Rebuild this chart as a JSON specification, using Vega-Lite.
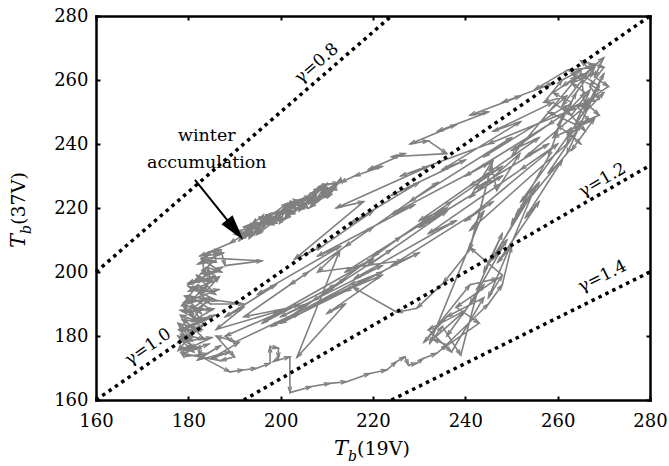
{
"$schema": "https://vega.github.io/schema/vega-lite/v6.json",
"width": 554, "height": 384,
"autosize": {"type": "none"},
"padding": {"left": 96, "top": 16, "right": 19, "bottom": 66},
"background": "white",
"config": {
 "view": {"stroke": null},
 "axis": {"domainColor": "black", "domainWidth": 2.5, "domainCap": "square", "tickColor": "black", "tickWidth": 2, "tickSize": -4, "labelFont": "DejaVu Serif", "labelFontSize": 18, "labelColor": "black", "grid": false},
 "text": {"font": "DejaVu Serif", "color": "black"}
},
"datasets": {
 "traj": [
{"t":1,"x":262,"y":250},{"t":2,"x":266,"y":256},{"t":3,"x":263,"y":259},{"t":4,"x":268,"y":262},{"t":5,"x":265,"y":266},{"t":6,"x":270,"y":264},{"t":7,"x":267,"y":258},{"t":8,"x":269,"y":254},{"t":9,"x":264,"y":252},{"t":10,"x":267,"y":247},
{"t":11,"x":262,"y":244},{"t":12,"x":265,"y":240},{"t":13,"x":260,"y":246},{"t":14,"x":263,"y":253},{"t":15,"x":259,"y":256},{"t":16,"x":264,"y":261},{"t":17,"x":261,"y":258},{"t":18,"x":266,"y":262},{"t":19,"x":270,"y":267},{"t":20,"x":268,"y":261},
{"t":21,"x":271,"y":258},{"t":22,"x":266,"y":253},{"t":23,"x":269,"y":249},{"t":24,"x":264,"y":246},{"t":25,"x":258,"y":250},{"t":26,"x":262,"y":255},{"t":27,"x":257,"y":253},{"t":28,"x":261,"y":260},{"t":29,"x":265,"y":263},{"t":30,"x":266,"y":250},
{"t":31,"x":270,"y":256},{"t":32,"x":263,"y":262},{"t":33,"x":268,"y":265},{"t":34,"x":261,"y":252},{"t":35,"x":266,"y":244},{"t":36,"x":263,"y":238},{"t":37,"x":268,"y":248},{"t":38,"x":259,"y":242},{"t":39,"x":264,"y":256},{"t":40,"x":268,"y":264},
{"t":41,"x":262,"y":263},{"t":42,"x":255,"y":257},{"t":43,"x":259,"y":259},{"t":44,"x":248,"y":253},{"t":45,"x":252,"y":255},{"t":46,"x":241,"y":249},{"t":47,"x":245,"y":250},{"t":48,"x":234,"y":244},{"t":49,"x":238,"y":246},{"t":50,"x":228,"y":240},
{"t":51,"x":232,"y":241},{"t":52,"x":236,"y":237},{"t":53,"x":224,"y":236},{"t":54,"x":227,"y":237},{"t":55,"x":219,"y":232},{"t":56,"x":222,"y":233},{"t":57,"x":216,"y":230},{"t":58,"x":213,"y":228},
{"t":59,"x":213,"y":229.3},{"t":60,"x":209.5,"y":223.3},{"t":61,"x":211.5,"y":227.2},{"t":62,"x":207,"y":221.3},{"t":63,"x":210,"y":227.6},{"t":64,"x":205.5,"y":221.4},{"t":65,"x":208,"y":225.2},{"t":66,"x":204,"y":219.1},{"t":67,"x":206.5,"y":223.2},{"t":68,"x":202,"y":221.4},
{"t":69,"x":205,"y":220.4},{"t":70,"x":200.5,"y":219.2},{"t":71,"x":203,"y":218.2},{"t":72,"x":198.5,"y":218.5},{"t":73,"x":201.5,"y":218.7},{"t":74,"x":197,"y":217.8},{"t":75,"x":199.5,"y":216},{"t":76,"x":195,"y":215.2},{"t":77,"x":198,"y":215.4},{"t":78,"x":193.5,"y":214.9},
{"t":79,"x":196,"y":212.8},{"t":80,"x":192,"y":212.2},{"t":81,"x":194.5,"y":215.3},{"t":82,"x":191,"y":209.8},{"t":83,"x":193,"y":211.9},{"t":84,"x":190,"y":211.8},{"t":85,"x":192.5,"y":211.2},{"t":86,"x":191,"y":212.95},{"t":87,"x":195,"y":213.95},{"t":88,"x":193.5,"y":211.1},
{"t":89,"x":197.5,"y":217.2},{"t":90,"x":196,"y":217.2},{"t":91,"x":200,"y":216.3},{"t":92,"x":198.5,"y":217.3},{"t":93,"x":202.5,"y":219},{"t":94,"x":201,"y":220.65},{"t":95,"x":205,"y":219.75},{"t":96,"x":203.5,"y":221.3},{"t":97,"x":207.5,"y":225.1},{"t":98,"x":206,"y":221.2},
{"t":99,"x":210,"y":225.3},{"t":100,"x":208.5,"y":226.4},{"t":101,"x":212,"y":226},{"t":102,"x":211,"y":225.75},{"t":103,"x":208.5,"y":226},{"t":104,"x":210,"y":223.6},{"t":105,"x":206,"y":223.4},{"t":106,"x":207.5,"y":222.4},{"t":107,"x":203.5,"y":222.4},{"t":108,"x":205.5,"y":221.5},
{"t":109,"x":201,"y":216.75},{"t":110,"x":203,"y":221.55},{"t":111,"x":199,"y":217.75},{"t":112,"x":200.5,"y":216.9},{"t":113,"x":196.5,"y":216.5},{"t":114,"x":198.5,"y":214.8},{"t":115,"x":194,"y":215.1},{"t":116,"x":196,"y":214.7},{"t":117,"x":192,"y":214.1},{"t":118,"x":193,"y":211.35},
{"t":118.01,"x":194.5,"y":216.4},{"t":118.02,"x":193.2,"y":210.5},{"t":118.03,"x":196.8,"y":214.8},{"t":118.04,"x":195.4,"y":217.15},{"t":118.05,"x":199.2,"y":215.2},{"t":118.06,"x":197.6,"y":217.4},{"t":118.07,"x":201.4,"y":221.45},{"t":118.08,"x":199.8,"y":215.25},{"t":118.09,"x":203.6,"y":219.7},{"t":118.10,"x":202.2,"y":221.95},
{"t":118.11,"x":206,"y":220},{"t":118.12,"x":204.4,"y":221.9},{"t":118.13,"x":208.3,"y":226.4},{"t":118.14,"x":206.8,"y":221},{"t":118.15,"x":210.6,"y":224.75},{"t":118.16,"x":209.2,"y":227.4},{"t":118.17,"x":212.5,"y":227.8},
{"t":118.18,"x":210.2,"y":223.25},{"t":118.19,"x":211.8,"y":227.75},{"t":118.20,"x":208.2,"y":226.65},{"t":118.21,"x":209.6,"y":223.7},{"t":118.22,"x":206.4,"y":220.2},{"t":118.23,"x":207.8,"y":225.85},{"t":118.24,"x":204.6,"y":222.45},{"t":118.25,"x":205.8,"y":220.05},{"t":118.26,"x":202.8,"y":222.7},
{"t":118.27,"x":204,"y":220.4},{"t":118.28,"x":200.8,"y":216.4},{"t":118.29,"x":202.2,"y":222.05},{"t":118.30,"x":198.8,"y":217.3},{"t":118.31,"x":200.2,"y":215.65},{"t":118.32,"x":196.8,"y":217.9},{"t":118.33,"x":198.2,"y":215.35},{"t":118.34,"x":194.8,"y":211.7},{"t":118.35,"x":196.2,"y":217.75},{"t":118.36,"x":192.8,"y":213.8},
{"t":118.37,"x":194.2,"y":211.65},{"t":118.38,"x":191.2,"y":210.9},
{"t":119,"x":189,"y":209},{"t":120,"x":182.5,"y":205},{"t":121,"x":187,"y":207},{"t":122,"x":187.95,"y":202},{"t":123,"x":196,"y":203.5},{"t":124,"x":183,"y":204.5},{"t":125,"x":183.5,"y":199},{"t":126,"x":187.4,"y":201.5},{"t":127,"x":179.95,"y":196},{"t":128,"x":185.4,"y":198.5},
{"t":129,"x":182.7,"y":193},{"t":130,"x":181.1,"y":195.5},{"t":131,"x":184.75,"y":190},{"t":132,"x":192,"y":190},{"t":133,"x":179.2,"y":192.5},{"t":134,"x":182.8,"y":187},{"t":135,"x":180.6,"y":189.5},{"t":136,"x":183.15,"y":184},{"t":137,"x":178.3,"y":186.5},{"t":138,"x":180.1,"y":181},
{"t":139,"x":183.4,"y":183.5},{"t":140,"x":177.75,"y":178},{"t":141,"x":180.6,"y":180.5},{"t":142,"x":177.8,"y":175.5},{"t":143,"x":180.9,"y":177},{"t":144,"x":181.75,"y":176},{"t":145,"x":177.75,"y":180},{"t":146,"x":180.9,"y":178.5},{"t":147,"x":177.75,"y":184},{"t":148,"x":182.95,"y":182},
{"t":149,"x":180.25,"y":188},{"t":150,"x":181.1,"y":185.5},{"t":151,"x":184.45,"y":192},{"t":152,"x":178.6,"y":189.5},{"t":153,"x":182.05,"y":196},{"t":154,"x":185.9,"y":193},{"t":155,"x":181.8,"y":199},{"t":156,"x":184.9,"y":197},{"t":157,"x":184.2,"y":201},{"t":158,"x":186.2,"y":197.5},
{"t":159,"x":180.05,"y":194},{"t":160,"x":183.8,"y":195},{"t":161,"x":179.9,"y":190.5},{"t":162,"x":185,"y":191.5},{"t":163,"x":180.9,"y":187.5},{"t":164,"x":178.25,"y":188},{"t":165,"x":182.9,"y":184.5},{"t":166,"x":178.7,"y":185},{"t":167,"x":182.6,"y":181.5},{"t":168,"x":178,"y":182},
{"t":169,"x":180.6,"y":178.5},{"t":170,"x":178.2,"y":179},{"t":171,"x":181.2,"y":175},{"t":172,"x":178.3,"y":176.5},{"t":173,"x":179,"y":173.5},{"t":174,"x":184,"y":174.5},{"t":175,"x":187,"y":177},{"t":176,"x":182,"y":172.5},{"t":177,"x":189,"y":175},{"t":178,"x":185,"y":173},
{"t":179,"x":191,"y":178},{"t":180,"x":186,"y":180},{"t":181,"x":190,"y":173.5},{"t":182,"x":187,"y":172.3},
{"t":182.01,"x":178.7,"y":174.5},{"t":182.02,"x":184.5,"y":177.5},{"t":182.03,"x":181.55,"y":176},{"t":182.04,"x":178.35,"y":180.5},{"t":182.05,"x":183.55,"y":179},{"t":182.06,"x":180.35,"y":183.5},{"t":182.07,"x":178,"y":182},{"t":182.08,"x":185.75,"y":186.5},{"t":182.09,"x":181.6,"y":185},{"t":182.10,"x":178.85,"y":189.5},
{"t":182.11,"x":185.05,"y":188},{"t":182.12,"x":180.35,"y":192.5},{"t":182.13,"x":186.2,"y":191},{"t":182.14,"x":180,"y":195.5},{"t":182.15,"x":183.8,"y":194},{"t":182.16,"x":186.7,"y":198.5},{"t":182.17,"x":181.2,"y":197},{"t":182.18,"x":183.95,"y":201.5},{"t":182.19,"x":187.2,"y":200},{"t":182.20,"x":182.8,"y":204},
{"t":182.21,"x":186,"y":203},{"t":182.22,"x":185.65,"y":207},
{"t":182.23,"x":183.6,"y":205},{"t":182.24,"x":187.6,"y":206},{"t":182.25,"x":182.05,"y":202.5},{"t":182.26,"x":185.5,"y":203.5},{"t":182.27,"x":182.8,"y":199.5},{"t":182.28,"x":186.6,"y":200.5},{"t":182.29,"x":179.95,"y":196.5},{"t":182.30,"x":185.15,"y":197.5},
{"t":182.31,"x":182.2,"y":193.5},{"t":182.32,"x":186.6,"y":194.5},{"t":182.33,"x":179,"y":190.5},{"t":182.34,"x":183.8,"y":191.5},{"t":182.35,"x":179.65,"y":187.5},{"t":182.36,"x":185.5,"y":188.5},{"t":182.37,"x":180.8,"y":184.5},{"t":182.38,"x":184.45,"y":185.5},{"t":182.39,"x":178.4,"y":181.5},{"t":182.40,"x":182.25,"y":182.5},
{"t":182.41,"x":179.85,"y":178.5},{"t":182.42,"x":185.1,"y":179.5},{"t":182.43,"x":179.05,"y":175.5},{"t":182.44,"x":182.5,"y":176.5},{"t":182.45,"x":182.4,"y":173.8},
{"t":183,"x":189,"y":168.8},{"t":184,"x":191.9,"y":169.4},{"t":185,"x":194.8,"y":169.9},{"t":186,"x":197.7,"y":171.5},{"t":187,"x":197.7,"y":176.7},{"t":188,"x":199.5,"y":176.2},{"t":189,"x":199.5,"y":173},{"t":190,"x":198.4,"y":172},
{"t":191,"x":202,"y":173.5},{"t":192,"x":202,"y":162.3},{"t":193,"x":206.7,"y":164.2},{"t":194,"x":210.7,"y":165.2},{"t":195,"x":214.3,"y":165.7},{"t":196,"x":219.3,"y":168.3},{"t":197,"x":223,"y":169.4},{"t":198,"x":225.1,"y":172},{"t":199,"x":226.9,"y":173.5},{"t":200,"x":227.7,"y":170.9},
{"t":201,"x":229.5,"y":171.5},{"t":202,"x":230.9,"y":173},{"t":203,"x":233.8,"y":174.6},{"t":204,"x":236,"y":177.2},{"t":205,"x":233,"y":179},{"t":206,"x":240,"y":188},{"t":207,"x":232,"y":182},{"t":208,"x":237,"y":175},{"t":209,"x":244,"y":192},{"t":210,"x":236,"y":186},
{"t":211,"x":231,"y":178},{"t":212,"x":241,"y":196},{"t":213,"x":247,"y":198},{"t":214,"x":238,"y":189},{"t":215,"x":243,"y":184},{"t":216,"x":235,"y":176},{"t":217,"x":245,"y":190},{"t":218,"x":248,"y":196},{"t":219,"x":250,"y":208},{"t":220,"x":247,"y":203},
{"t":221,"x":256,"y":222},{"t":222,"x":253,"y":217},{"t":223,"x":261,"y":235},{"t":224,"x":258,"y":231},{"t":225,"x":265,"y":246},{"t":226,"x":262,"y":242},{"t":227,"x":268,"y":255},{"t":228,"x":266,"y":251},{"t":229,"x":270,"y":262},{"t":230,"x":262,"y":237},
{"t":231,"x":251,"y":218},{"t":232,"x":255,"y":226},{"t":233,"x":245,"y":192},{"t":234,"x":248,"y":199},{"t":235,"x":241,"y":207.6},{"t":236,"x":245.7,"y":233.3},{"t":237,"x":246.8,"y":225.5},{"t":238,"x":251.8,"y":237},{"t":239,"x":241,"y":223.3},{"t":240,"x":246,"y":235},
{"t":241,"x":241,"y":207},{"t":242,"x":235.2,"y":196.5},{"t":243,"x":229.5,"y":188.7},{"t":244,"x":225.2,"y":187.4},{"t":245,"x":215.7,"y":195.2},{"t":246,"x":222,"y":199},{"t":247,"x":210,"y":187},{"t":248,"x":214,"y":190},{"t":249,"x":203.5,"y":173.3},{"t":250,"x":212.8,"y":206.7},
{"t":251,"x":208,"y":200},{"t":252,"x":226.5,"y":203.6},{"t":253,"x":214,"y":194},{"t":254,"x":200,"y":184},{"t":255,"x":214,"y":198},{"t":256,"x":210,"y":194},{"t":257,"x":226,"y":211},{"t":258,"x":220,"y":205},{"t":259,"x":237,"y":222},{"t":260,"x":231,"y":216},
{"t":261,"x":248,"y":233},{"t":262,"x":241,"y":227},{"t":263,"x":256,"y":242},{"t":264,"x":250,"y":238},{"t":265,"x":264,"y":252},{"t":266,"x":258,"y":246},{"t":267,"x":240,"y":230},{"t":268,"x":245,"y":234},{"t":269,"x":224,"y":218},{"t":270,"x":229,"y":221},
{"t":271,"x":208,"y":205},{"t":272,"x":213,"y":208},{"t":273,"x":195,"y":193},{"t":274,"x":199,"y":196},{"t":275,"x":188,"y":186},{"t":276,"x":192,"y":189},{"t":277,"x":186,"y":182},{"t":278,"x":200,"y":188},{"t":279,"x":196,"y":184},{"t":280,"x":212,"y":196},
{"t":281,"x":207,"y":191},{"t":282,"x":224,"y":207},{"t":283,"x":219,"y":202},{"t":284,"x":236,"y":219},{"t":285,"x":230,"y":214},{"t":286,"x":248,"y":230},{"t":287,"x":242,"y":226},{"t":288,"x":258,"y":240},{"t":289,"x":253,"y":236},{"t":290,"x":267,"y":253},
{"t":291,"x":245,"y":240},{"t":292,"x":226,"y":230},{"t":293,"x":232,"y":233},{"t":294,"x":212,"y":220},{"t":295,"x":218,"y":222},{"t":296,"x":203,"y":204},{"t":297,"x":209,"y":208},{"t":298,"x":220,"y":219},{"t":299,"x":215,"y":215},{"t":300,"x":230,"y":228},
{"t":301,"x":224,"y":224},{"t":302,"x":240,"y":235},{"t":303,"x":235,"y":232},{"t":304,"x":252,"y":247},{"t":305,"x":246,"y":244},{"t":306,"x":259,"y":253},{"t":307,"x":263,"y":249},{"t":308,"x":267,"y":257},{"t":309,"x":262,"y":240},{"t":310,"x":241,"y":213},
{"t":311,"x":244,"y":219},{"t":312,"x":232.3,"y":177.7},{"t":313,"x":235,"y":183},{"t":314,"x":239,"y":174},{"t":315,"x":243,"y":196},{"t":316,"x":248,"y":212},{"t":317,"x":244,"y":200},{"t":318,"x":256,"y":228},{"t":319,"x":252,"y":222},{"t":320,"x":263,"y":244},
{"t":321,"x":269,"y":258},{"t":322,"x":265,"y":262},{"t":323,"x":250,"y":236},{"t":324,"x":230,"y":216},{"t":325,"x":236,"y":220},{"t":326,"x":214,"y":200},{"t":327,"x":220,"y":204},{"t":328,"x":198,"y":186},{"t":329,"x":204,"y":190},{"t":330,"x":188,"y":180},
{"t":331,"x":190,"y":178},{"t":332,"x":222,"y":200},{"t":333,"x":215,"y":196},{"t":334,"x":198,"y":183},{"t":335,"x":204,"y":187},{"t":336,"x":230,"y":206},{"t":337,"x":224,"y":202},{"t":338,"x":246,"y":222},{"t":339,"x":240,"y":216},{"t":340,"x":260,"y":240},
{"t":341,"x":252,"y":232},{"t":342,"x":232,"y":212},{"t":343,"x":238,"y":216},{"t":344,"x":216,"y":198},{"t":345,"x":222,"y":202},{"t":346,"x":200,"y":186},{"t":347,"x":206,"y":190},{"t":348,"x":192,"y":186},{"t":349,"x":206,"y":200},{"t":350,"x":202,"y":196},
{"t":351,"x":220,"y":214},{"t":352,"x":214,"y":208},{"t":353,"x":234,"y":228},{"t":354,"x":228,"y":222},{"t":355,"x":250,"y":242},{"t":356,"x":244,"y":236},{"t":357,"x":262,"y":252},{"t":358,"x":258,"y":236},{"t":359,"x":250,"y":215},{"t":360,"x":253,"y":222},
{"t":361,"x":246,"y":204},{"t":362,"x":249,"y":210},{"t":363,"x":241,"y":190},{"t":364,"x":244,"y":196},{"t":365,"x":236,"y":180}
 ],
 "gam": [
  {"g": "0.8", "x": 160, "y": 200}, {"g": "0.8", "x": 224, "y": 280},
  {"g": "1.0", "x": 160, "y": 160}, {"g": "1.0", "x": 280, "y": 280},
  {"g": "1.2", "x": 192, "y": 160}, {"g": "1.2", "x": 280, "y": 233.33},
  {"g": "1.4", "x": 224, "y": 160}, {"g": "1.4", "x": 280, "y": 200}
 ]
},
"resolve": {"axis": {"x": "independent", "y": "independent"}},
"layer": [
 {
  "data": {"name": "traj"},
  "mark": {"type": "line", "color": "#808080", "strokeWidth": 1.6, "strokeJoin": "round"},
  "encoding": {
   "x": {"field": "x", "type": "quantitative", "scale": {"domain": [160, 280], "nice": false, "zero": false},
         "axis": {"orient": "bottom", "values": [160, 180, 200, 220, 240, 260, 280], "title": null, "labelFlush": false, "labelOverlap": false, "labelPadding": 16}},
   "y": {"field": "y", "type": "quantitative", "scale": {"domain": [160, 280], "nice": false, "zero": false},
         "axis": {"orient": "left", "values": [160, 180, 200, 220, 240, 260, 280], "title": null, "labelFlush": false, "labelOverlap": false, "labelPadding": 12}},
   "order": {"field": "t", "type": "quantitative"}
  }
 },
 {
  "data": {"name": "traj"},
  "transform": [
   {"window": [{"op": "lag", "field": "x", "param": 1, "as": "px"}, {"op": "lag", "field": "y", "param": 1, "as": "py"}], "sort": [{"field": "t", "order": "ascending"}]},
   {"filter": "isValid(datum.px)"},
   {"calculate": "atan2((datum.x - datum.px) * 4.6167, (datum.y - datum.py) * 3.2) * 180 / PI", "as": "ang"}
  ],
  "mark": {"type": "point", "shape": "M-0.55,1.8L0,0L0.55,1.8", "filled": false, "color": "#808080", "strokeWidth": 1.3, "size": 45, "opacity": 1},
  "encoding": {
   "x": {"field": "x", "type": "quantitative", "axis": null},
   "y": {"field": "y", "type": "quantitative", "axis": null},
   "angle": {"field": "ang", "type": "quantitative", "scale": null}
  }
 },
 {
  "data": {"name": "gam"},
  "mark": {"type": "line", "color": "black", "strokeWidth": 3.5, "strokeDash": [3.5, 4.2], "strokeCap": "butt"},
  "encoding": {
   "x": {"field": "x", "type": "quantitative", "scale": {"domain": [160, 280], "nice": false, "zero": false},
         "axis": {"orient": "top", "values": [160, 180, 200, 220, 240, 260, 280], "labels": false, "title": null}},
   "y": {"field": "y", "type": "quantitative", "scale": {"domain": [160, 280], "nice": false, "zero": false},
         "axis": {"orient": "right", "values": [160, 180, 200, 220, 240, 260, 280], "labels": false, "title": null}},
   "detail": {"field": "g"}
  }
 },
 {"data": {"values": [{}]}, "mark": {"type": "text", "text": "γ=0.8", "fontSize": 17, "angle": 319.1, "align": "center", "baseline": "middle"},
  "encoding": {"x": {"datum": 207.8, "type": "quantitative", "axis": null}, "y": {"datum": 265.2, "type": "quantitative", "axis": null}}},
 {"data": {"values": [{}]}, "mark": {"type": "text", "text": "γ=1.0", "fontSize": 17, "angle": 325.3, "align": "center", "baseline": "middle"},
  "encoding": {"x": {"datum": 171.3, "type": "quantitative", "axis": null}, "y": {"datum": 176.6, "type": "quantitative", "axis": null}}},
 {"data": {"values": [{}]}, "mark": {"type": "text", "text": "γ=1.2", "fontSize": 17, "angle": 330, "align": "center", "baseline": "middle"},
  "encoding": {"x": {"datum": 269.7, "type": "quantitative", "axis": null}, "y": {"datum": 228.75, "type": "quantitative", "axis": null}}},
 {"data": {"values": [{}]}, "mark": {"type": "text", "text": "γ=1.4", "fontSize": 17, "angle": 333.7, "align": "center", "baseline": "middle"},
  "encoding": {"x": {"datum": 269.7, "type": "quantitative", "axis": null}, "y": {"datum": 198.6, "type": "quantitative", "axis": null}}},
 {"data": {"values": [{}]}, "mark": {"type": "text", "text": ["winter", "accumulation"], "fontSize": 17.5, "lineHeight": 27, "align": "center", "baseline": "alphabetic"},
  "encoding": {"x": {"datum": 184.0, "type": "quantitative", "axis": null}, "y": {"datum": 240.9, "type": "quantitative", "axis": null}}},
 {"data": {"values": [{}]}, "mark": {"type": "rule", "color": "black", "strokeWidth": 2},
  "encoding": {"x": {"datum": 181.44, "type": "quantitative", "axis": null}, "y": {"datum": 228.8, "type": "quantitative", "axis": null},
               "x2": {"datum": 190.14}, "y2": {"datum": 213.16}}},
 {"data": {"values": [{}]}, "mark": {"type": "point", "shape": "M0,-1L0.55,1L-0.55,1Z", "filled": true, "color": "black", "size": 676, "angle": 141, "opacity": 1, "strokeWidth": 0},
  "encoding": {"x": {"datum": 190.14, "type": "quantitative", "axis": null}, "y": {"datum": 213.16, "type": "quantitative", "axis": null}}},
 {"data": {"values": [{}]}, "mark": {"type": "text", "text": "T", "fontSize": 21, "fontStyle": "italic", "align": "right", "baseline": "alphabetic"},
  "encoding": {"x": {"datum": 214.6, "type": "quantitative", "axis": null}, "y": {"datum": 142.8, "type": "quantitative", "axis": null}}},
 {"data": {"values": [{}]}, "mark": {"type": "text", "text": "b", "fontSize": 14, "fontStyle": "italic", "align": "left", "baseline": "alphabetic", "dy": 6},
  "encoding": {"x": {"datum": 214.6, "type": "quantitative", "axis": null}, "y": {"datum": 142.8, "type": "quantitative", "axis": null}}},
 {"data": {"values": [{}]}, "mark": {"type": "text", "text": "(19V)", "fontSize": 19, "align": "left", "baseline": "alphabetic", "dx": 9},
  "encoding": {"x": {"datum": 214.6, "type": "quantitative", "axis": null}, "y": {"datum": 142.8, "type": "quantitative", "axis": null}}},
 {"data": {"values": [{}]}, "mark": {"type": "text", "text": "T", "fontSize": 21, "fontStyle": "italic", "align": "right", "baseline": "alphabetic", "angle": 270},
  "encoding": {"x": {"datum": 144.6, "type": "quantitative", "axis": null}, "y": {"datum": 211.9, "type": "quantitative", "axis": null}}},
 {"data": {"values": [{}]}, "mark": {"type": "text", "text": "b", "fontSize": 14, "fontStyle": "italic", "align": "left", "baseline": "alphabetic", "angle": 270, "dy": 6},
  "encoding": {"x": {"datum": 144.6, "type": "quantitative", "axis": null}, "y": {"datum": 211.9, "type": "quantitative", "axis": null}}},
 {"data": {"values": [{}]}, "mark": {"type": "text", "text": "(37V)", "fontSize": 19, "align": "left", "baseline": "alphabetic", "angle": 270, "dx": 9},
  "encoding": {"x": {"datum": 144.6, "type": "quantitative", "axis": null}, "y": {"datum": 211.9, "type": "quantitative", "axis": null}}}
]
}
